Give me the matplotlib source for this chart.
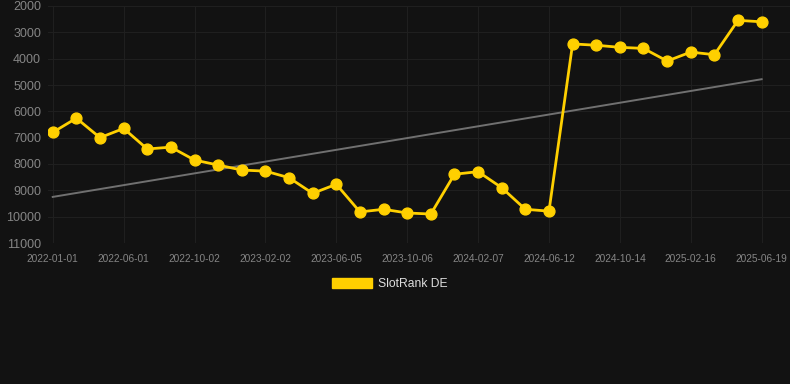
import numpy as np
import matplotlib
matplotlib.use("Agg")
import matplotlib.pyplot as plt
from matplotlib.patches import Patch

plt.rcParams['font.family'] = ['Liberation Sans', 'DejaVu Sans']

# rank values, one point per period (every third point carries a date label)
rank = [6800, 6260, 7000, 6650, 7430, 7360, 7850,
        8040, 8230, 8270, 8520, 9115, 8770, 9820, 9720, 9860, 9900,
        8390, 8290, 8900, 9720, 9790,
        3440, 3490, 3570, 3610, 4090, 3750, 3850, 2545, 2600]
date_labels = ['2022-01-01', '2022-06-01', '2022-10-02', '2023-02-02', '2023-06-05',
               '2023-10-06', '2024-02-07', '2024-06-12', '2024-10-14', '2025-02-16',
               '2025-06-19']
trend_start = 9250
trend_end = 4780
y_ticks = [2000, 3000, 4000, 5000, 6000, 7000, 8000, 9000, 10000, 11000]

bg = '#121212'
fig = plt.figure(figsize=(7.9, 3.84), dpi=100, facecolor=bg)
ax = fig.add_axes([48 / 790, 1 - 243 / 384, (790 - 48) / 790, 237 / 384])
ax.set_facecolor(bg)

x = np.arange(len(rank))
ax.plot([x[0], x[-1]], [trend_start, trend_end], color='#707070', linewidth=1.4, zorder=2)
ax.plot(x, rank, '-o', color='#FFD000', linewidth=2.0, markersize=7.8, zorder=3)

ax.set_xlim(-0.2, 31.2)
ax.set_ylim(11000, 2000)
ax.set_yticks(y_ticks)
ax.set_yticklabels([str(v) for v in y_ticks])
ax.set_xticks(x[::3])
ax.set_xticklabels(date_labels)

ax.grid(True, color='#1f1f1f', linewidth=0.8)
ax.set_axisbelow(True)
for s in ax.spines.values():
    s.set_visible(False)
ax.tick_params(axis='y', length=0, pad=5, labelsize=9, labelcolor='#858585')
ax.tick_params(axis='x', length=0, pad=8, labelsize=7.3, labelcolor='#858585')

fig.legend(handles=[Patch(facecolor='#FFD000', edgecolor='#FFD000')], labels=['SlotRank DE'],
           loc='center', bbox_to_anchor=(390 / 790, 1 - 284 / 384), frameon=False,
           fontsize=8.7, labelcolor='#dddddd', handlelength=3.3, handleheight=0.9,
           handletextpad=0.5)

fig.savefig('out.png', dpi=100, facecolor=bg)
